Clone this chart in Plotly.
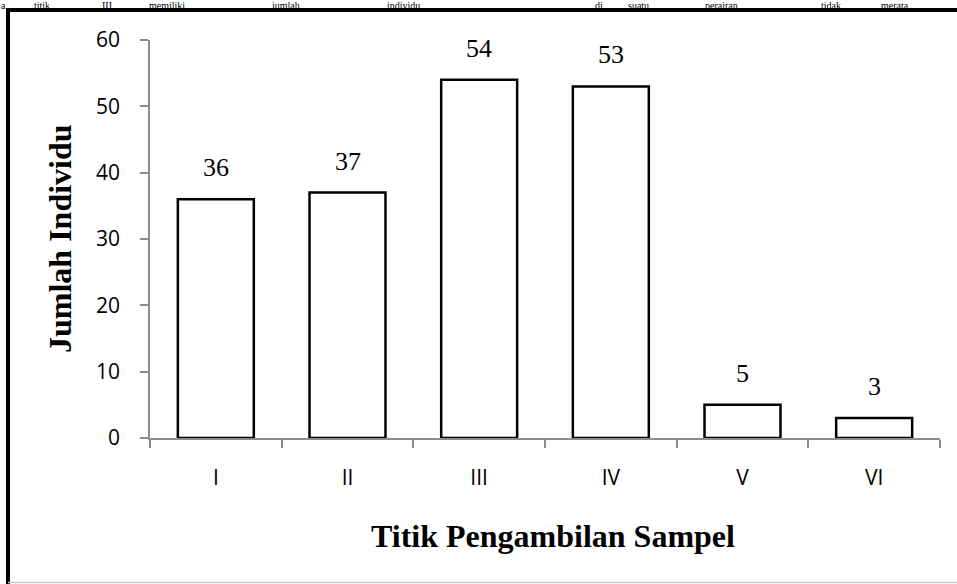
import plotly.graph_objects as go

categories = ["I", "II", "III", "IV", "V", "VI"]
values = [36, 37, 54, 53, 5, 3]
y_ticks = [0, 10, 20, 30, 40, 50, 60]
y_title = "Jumlah Individu"
x_title = "Titik Pengambilan Sampel"
top_words = ["a.", "titik", "III", "memiliki", "jumlah", "individu", "di", "suatu", "perairan", "tidak", "merata"]
top_word_px = [0, 33, 101, 148, 270, 386, 594, 627, 704, 820, 880]

W, H = 957, 584
L, R, T, B = 150, 17, 40, 146
pw = W - L - R
ph = H - T - B

def px_x(p):
    return (p - L) / pw

def px_y(p):
    return (H - B - p) / ph

serif = "Liberation Serif"
sans = "Open Sans"

fig = go.Figure()
fig.add_trace(go.Bar(
    x=categories, y=values,
    marker=dict(color="white", line=dict(color="black", width=2.5)),
    showlegend=False, hoverinfo="skip",
))

for c, v in zip(categories, values):
    fig.add_annotation(x=c, y=v, text=str(v), showarrow=False, xref="x", yref="y",
                       yanchor="bottom", yshift=15,
                       font=dict(family=serif, size=26, color="black"))

fig.add_annotation(x=px_x(60), y=px_y(239), xref="paper", yref="paper", text="<b>%s</b>" % y_title,
                   textangle=-90, showarrow=False, xanchor="center", yanchor="middle",
                   font=dict(family=serif, size=32, color="black"))
fig.add_annotation(x=px_x(553), y=px_y(536), xref="paper", yref="paper", text="<b>%s</b>" % x_title,
                   showarrow=False, xanchor="center", yanchor="middle",
                   font=dict(family=serif, size=32, color="black"))

for wd, p in zip(top_words, top_word_px):
    fig.add_annotation(x=px_x(p), y=px_y(-1), xref="paper", yref="paper", text=wd,
                       showarrow=False, xanchor="left", yanchor="top", borderpad=0,
                       font=dict(family=serif, size=10, color="black"))

# page borders
fig.add_shape(type="line", xref="paper", yref="paper", x0=px_x(8), x1=px_x(8), y0=px_y(8), y1=px_y(600),
              line=dict(color="black", width=4))
fig.add_shape(type="line", xref="paper", yref="paper", x0=px_x(6), x1=px_x(970), y0=px_y(10), y1=px_y(10),
              line=dict(color="black", width=4))
fig.add_shape(type="line", xref="paper", yref="paper", x0=px_x(8), x1=px_x(970), y0=px_y(582.5), y1=px_y(582.5),
              line=dict(color="#c8c8c8", width=1.5))

axis_color = "#8c8c8c"
fig.update_layout(
    width=W, height=H,
    margin=dict(l=L, r=R, t=T, b=B, pad=0),
    paper_bgcolor="white", plot_bgcolor="white",
    bargap=0.423,
    xaxis=dict(type="category", tickson="boundaries", ticks="outside", ticklen=8, tickwidth=1.5,
               tickcolor=axis_color, showline=True, linecolor=axis_color, linewidth=1.5,
               showgrid=False, ticklabelstandoff=20,
               tickfont=dict(family=sans, size=21, color="black")),
    yaxis=dict(range=[0, 60], tickvals=y_ticks, ticks="outside", ticklen=8, tickwidth=1.5,
               tickcolor=axis_color, showline=True, linecolor=axis_color, linewidth=1.5,
               showgrid=False, zeroline=False, ticklabelstandoff=16,
               tickfont=dict(family=sans, size=21, color="black")),
)

fig.write_html("out.html", config={"displayModeBar": False},
               post_script="document.body.style.margin='0';document.body.style.overflow='hidden';")
